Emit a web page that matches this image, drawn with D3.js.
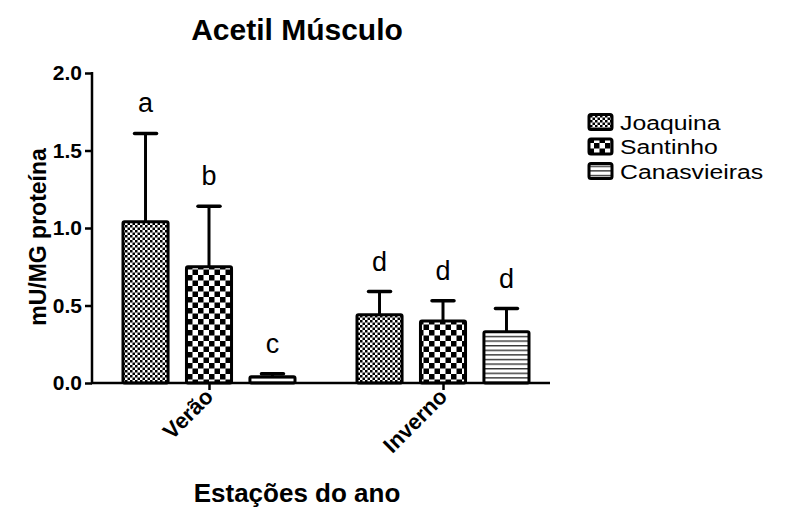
<!DOCTYPE html>
<html><head><meta charset="utf-8">
<script src="https://cdn.jsdelivr.net/npm/d3@7"></script>
<style>body{margin:0;background:#fff}svg{display:block;font-family:"Liberation Sans",Arial,sans-serif}</style>
</head><body><svg id="c" width="796" height="509"></svg>
<script>
const groups = ["Verão", "Inverno"];
const series = ["Joaquina", "Santinho", "Canasvieiras"];
const means = { Joaquina: [1.04, 0.44], Santinho: [0.75, 0.40], Canasvieiras: [0.04, 0.33] };
const errs  = { Joaquina: [0.57, 0.15], Santinho: [0.39, 0.13], Canasvieiras: [0.02, 0.15] };
const letters = { Joaquina: ["a", "d"], Santinho: ["b", "d"], Canasvieiras: ["c", "d"] };
const yTicks = [0, 0.5, 1.0, 1.5, 2.0];
const title = "Acetil Músculo", yTitle = "mU/MG proteína", xTitle = "Estações do ano";

const svg = d3.select("#c");
const defs = svg.append("defs");
let p = defs.append("pattern").attr("id","pJ").attr("patternUnits","userSpaceOnUse").attr("width",5).attr("height",5);
p.append("rect").attr("width",5).attr("height",5).attr("fill","#fff");
p.append("rect").attr("width",2.5).attr("height",2.5).attr("fill","#000");
p.append("rect").attr("x",2.5).attr("y",2.5).attr("width",2.5).attr("height",2.5).attr("fill","#000");
p = defs.append("pattern").attr("id","pS").attr("patternUnits","userSpaceOnUse").attr("width",11).attr("height",11);
p.append("rect").attr("width",11).attr("height",11).attr("fill","#fff");
p.append("rect").attr("width",5.5).attr("height",5.5).attr("fill","#000");
p.append("rect").attr("x",5.5).attr("y",5.5).attr("width",5.5).attr("height",5.5).attr("fill","#000");
p = defs.append("pattern").attr("id","pC").attr("patternUnits","userSpaceOnUse").attr("width",10).attr("height",4.6);
p.append("rect").attr("width",10).attr("height",4.6).attr("fill","#fff");
p.append("rect").attr("y",0).attr("width",10).attr("height",1.4).attr("fill","#333");
const fills = { Joaquina: "url(#pJ)", Santinho: "url(#pS)", Canasvieiras: "url(#pC)" };

const y = d3.scaleLinear().domain([0, 2]).range([383, 73]);
const x0 = d3.scalePoint().domain(groups).range([209, 443]);
const x1 = d3.scaleBand().domain(series).range([-86, 86]).paddingInner(0.29);
const bw = x1.bandwidth();

const data = [];
series.forEach(s => groups.forEach((g, i) => data.push({ s, g, v: means[s][i], e: errs[s][i], l: letters[s][i] })));

const gBars = svg.append("g");
data.forEach(d => {
  const cx = x0(d.g) + x1(d.s) + bw / 2;
  gBars.append("rect").attr("x", cx - bw/2).attr("y", y(d.v)).attr("width", bw).attr("height", y(0) - y(d.v))
    .attr("fill", fills[d.s]).attr("stroke", "#000").attr("stroke-width", 3).attr("rx", 1.5);
  gBars.append("line").attr("x1", cx).attr("x2", cx).attr("y1", y(d.v)).attr("y2", y(d.v + d.e))
    .attr("stroke", "#000").attr("stroke-width", 3);
  gBars.append("line").attr("x1", cx - 11).attr("x2", cx + 11).attr("y1", y(d.v + d.e)).attr("y2", y(d.v + d.e))
    .attr("stroke", "#000").attr("stroke-width", 3.5).attr("stroke-linecap", "round");
  gBars.append("text").attr("x", cx).attr("y", y(d.v + d.e) - 21).attr("text-anchor", "middle")
    .attr("font-size", 27).text(d.l);
});

const ya = svg.append("g").attr("transform", "translate(92,0)")
  .call(d3.axisLeft(y).tickValues(yTicks).tickFormat(d3.format(".1f")).tickSizeOuter(0).tickSize(7).tickPadding(3));
ya.select(".domain").attr("stroke-width", 2.5).attr("d", `M0,${y(2)-1}V${y(0)+1}`);
ya.selectAll(".tick line").attr("stroke-width", 2.5);
ya.selectAll(".tick text").attr("font-size", 21).attr("font-weight", "bold").attr("font-family", "Liberation Sans, Arial").attr("fill", "#000");

const xa = svg.append("g").attr("transform", `translate(0,${y(0)})`)
  .call(d3.axisBottom(x0).tickSize(7).tickSizeOuter(0).tickPadding(6));
xa.select(".domain").attr("stroke-width", 2.5).attr("d", "M91,0H550");
xa.selectAll(".tick line").attr("stroke-width", 2.5);
xa.selectAll(".tick text").attr("font-size", 22).attr("font-weight", "bold").attr("font-family", "Liberation Sans, Arial")
  .attr("fill", "#000").attr("text-anchor", "end").attr("dy", null)
  .attr("transform", "translate(5,15) rotate(-45)").attr("y", 0).attr("x", 0);

svg.append("text").attr("x", 297).attr("y", 40).attr("text-anchor", "middle").attr("font-size", 30).attr("font-weight", "bold").text(title);
svg.append("text").attr("transform", `translate(46,237) rotate(-90)`).attr("text-anchor", "middle")
  .attr("font-size", 23).attr("font-weight", "bold").text(yTitle);
svg.append("text").attr("x", 297).attr("y", 502).attr("text-anchor", "middle").attr("font-size", 26).attr("font-weight", "bold").text(xTitle);

const lg = svg.append("g");
series.forEach((s, i) => {
  const yy = 122 + i * 24.5;
  lg.append("rect").attr("x", 589).attr("y", yy - 7.5).attr("width", 23).attr("height", 15).attr("rx", 2)
    .attr("fill", fills[s]).attr("stroke", "#000").attr("stroke-width", 3);
  lg.append("text").attr("transform", `translate(620,${yy + 7.5}) scale(1.18,1)`).attr("font-size", 21).text(s);
});
</script></body></html>
